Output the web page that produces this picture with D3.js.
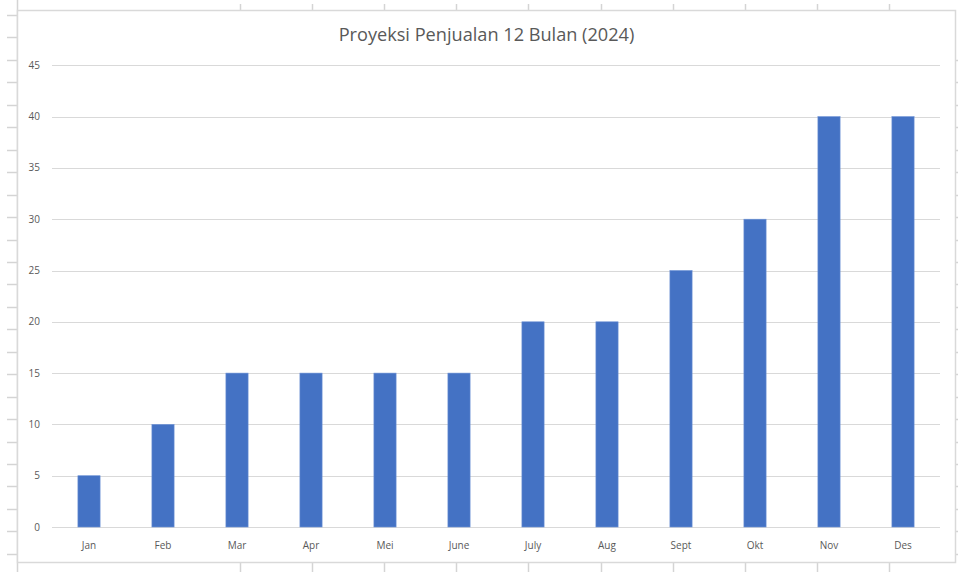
<!DOCTYPE html>
<html><head><meta charset="utf-8">
<script src="https://cdn.jsdelivr.net/npm/d3@7"></script>
<style>body{margin:0;background:#fff;font-family:"Open Sans","Liberation Sans",sans-serif;}svg{display:block}</style>
</head><body>
<svg id="c" width="958" height="572"></svg>
<script>
const title = "Proyeksi Penjualan 12 Bulan (2024)";
const categories = ["Jan","Feb","Mar","Apr","Mei","June","July","Aug","Sept","Okt","Nov","Des"];
const values = [5,10,15,15,15,15,20,20,25,30,40,40];
const yTicks = [0,5,10,15,20,25,30,35,40,45];

const svg = d3.select("#c");
const W = 958, H = 572;
const grey = "#d9d9d9";

// spreadsheet background ticks
const rowYs = d3.range(25).map(k => 15 + 22.45*k);
svg.append("g").selectAll("line").data(rowYs).join("line")
  .attr("x1",7).attr("x2",17).attr("y1",d=>Math.round(d)+0.5).attr("y2",d=>Math.round(d)+0.5)
  .attr("stroke","#d4d4d4").attr("stroke-width",1.5);
svg.append("g").selectAll("line").data(rowYs.filter(y=>y>40)).join("line")
  .attr("x1",956).attr("x2",958).attr("y1",d=>Math.round(d)+0.5).attr("y2",d=>Math.round(d)+0.5)
  .attr("stroke","#d4d4d4").attr("stroke-width",1.5);
const colXs = d3.range(10).map(k => 240 + 72.1*k);
svg.append("g").selectAll("line").data(colXs).join("line")
  .attr("x1",d=>Math.round(d)+0.5).attr("x2",d=>Math.round(d)+0.5).attr("y1",4).attr("y2",10)
  .attr("stroke","#d4d4d4").attr("stroke-width",1.5);
svg.append("g").selectAll("line").data(colXs).join("line")
  .attr("x1",d=>Math.round(d)+0.5).attr("x2",d=>Math.round(d)+0.5).attr("y1",563).attr("y2",572)
  .attr("stroke","#d4d4d4").attr("stroke-width",1.5);
svg.append("line").attr("x1",17.5).attr("x2",17.5).attr("y1",0).attr("y2",572)
  .attr("stroke","#d4d4d4").attr("stroke-width",1.5);

// chart area
svg.append("rect").attr("x",17.5).attr("y",10.5).attr("width",938).attr("height",552)
  .attr("fill","#fff").attr("stroke",grey).attr("stroke-width",1.5);

const x = d3.scaleBand().domain(categories).range([52,940]).paddingInner(0.7).paddingOuter(0.35);
const y = d3.scaleLinear().domain([0,45]).range([527,65.3]);

// gridlines
svg.append("g").selectAll("line").data(yTicks).join("line")
  .attr("x1",52).attr("x2",940).attr("y1",d=>Math.round(y(d))+0.5).attr("y2",d=>Math.round(y(d))+0.5)
  .attr("stroke",grey).attr("stroke-width",1.2);

// y labels
svg.append("g").selectAll("text").data(yTicks).join("text")
  .attr("x",40).attr("y",d=>y(d)).attr("dy","0.35em").attr("text-anchor","end")
  .attr("font-size",10).attr("fill","#595959").text(d=>d);

// bars
svg.append("g").selectAll("rect").data(values).join("rect")
  .attr("x",(d,i)=>x(categories[i])).attr("width",x.bandwidth())
  .attr("y",d=>y(d)).attr("height",d=>y(0)-y(d))
  .attr("fill","#4472C4").attr("stroke","#6f93d6").attr("stroke-width",0.6);

// x labels
svg.append("g").selectAll("text").data(categories).join("text")
  .attr("x",d=>x(d)+x.bandwidth()/2).attr("y",545).attr("dy","0.35em").attr("text-anchor","middle")
  .attr("font-size",10).attr("fill","#595959").text(d=>d);

// title
const t = svg.append("text").attr("x",486.5).attr("y",35).attr("dy","0.35em").attr("text-anchor","middle")
  .attr("font-size",17).attr("fill","#595959").text(title);
const w = t.node().getComputedTextLength();
t.attr("font-size", 17*296/w);
</script>
</body></html>
